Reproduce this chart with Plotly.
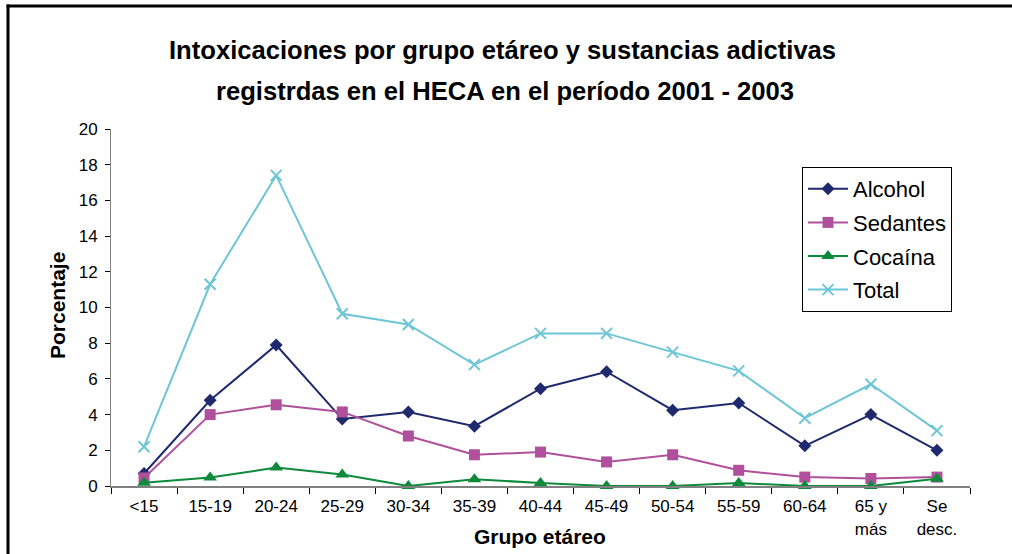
import plotly.graph_objects as go

categories = ["<15", "15-19", "20-24", "25-29", "30-34", "35-39", "40-44",
              "45-49", "50-54", "55-59", "60-64", "65 y<br>más", "Se<br>desc."]
alcohol = [0.7, 4.8, 7.9, 3.75, 4.15, 3.35, 5.45, 6.4, 4.25, 4.65, 2.25, 4.0, 2.0]
sedantes = [0.45, 4.0, 4.55, 4.15, 2.8, 1.75, 1.9, 1.35, 1.75, 0.88, 0.5, 0.42, 0.5]
cocaina = [0.18, 0.47, 1.03, 0.64, 0.0, 0.38, 0.17, 0.0, 0.0, 0.17, 0.0, 0.0, 0.4]
total = [2.2, 11.3, 17.4, 9.65, 9.05, 6.8, 8.55, 8.55, 7.5, 6.45, 3.8, 5.7, 3.1]

series = [
    ("Alcohol", alcohol, "#1F2A6E", "diamond", 10),
    ("Sedantes", sedantes, "#B0509C", "square", 11),
    ("Cocaína", cocaina, "#0E8A3A", "triangle-up", 12),
    ("Total", total, "#6CC6D6", "x-thin", 11),
]

fig = go.Figure()
for name, vals, color, sym, size in series:
    marker = dict(symbol=sym, size=size, color=color)
    if sym == "x-thin":
        marker["line"] = dict(color=color, width=2)
    fig.add_trace(go.Scatter(
        x=categories, y=vals, name=name, legendgroup=name, mode="lines+markers",
        line=dict(color=color, width=2), marker=marker, cliponaxis=False))

W, H = 1012, 554
L, R, T, B = 111, 970, 129, 486
pw, ph = R - L, B - T

def px(x):
    return (x - L) / pw

def py(y):
    return (B - y) / ph

FONT = "Liberation Sans, Arial, sans-serif"

fig.update_layout(
    width=W, height=H,
    margin=dict(l=L, r=W - R, t=T, b=H - B, pad=0, autoexpand=False),
    paper_bgcolor="white", plot_bgcolor="white",
    font=dict(family=FONT, color="black", size=17),
    showlegend=True,
    legend=dict(x=px(802), y=py(167), xanchor="left", yanchor="top",
                bgcolor="white", bordercolor="black", borderwidth=1,
                font=dict(size=22, family=FONT), itemwidth=40, tracegroupgap=2),
    xaxis=dict(type="category", showgrid=False, showline=True, linecolor="#808080",
               linewidth=2, ticks="outside", tickson="boundaries", ticklen=6,
               tickcolor="black", tickwidth=1, tickfont=dict(size=17),
               ticklabelstandoff=4, automargin=False, range=[-0.5, 12.5]),
    yaxis=dict(range=[0, 20], dtick=2, showgrid=False, showline=True,
               linecolor="#808080", linewidth=1, ticks="outside", ticklen=5,
               tickcolor="black", tickfont=dict(size=17), zeroline=False,
               ticklabelstandoff=4, automargin=False),
    annotations=[
        dict(text="<b>Intoxicaciones por grupo etáreo y sustancias adictivas</b>",
             x=px(502), y=py(50), xref="paper", yref="paper", showarrow=False,
             xanchor="center", yanchor="middle", font=dict(size=25.6, family=FONT)),
        dict(text="<b>registrdas en el HECA en el período 2001 - 2003</b>",
             x=px(505), y=py(91), xref="paper", yref="paper", showarrow=False,
             xanchor="center", yanchor="middle", font=dict(size=25.6, family=FONT)),
        dict(text="<b>Grupo etáreo</b>",
             x=px(540), y=py(536), xref="paper", yref="paper", showarrow=False,
             xanchor="center", yanchor="middle", font=dict(size=21, family=FONT)),
        dict(text="<b>Porcentaje</b>", textangle=-90,
             x=px(57), y=py(306), xref="paper", yref="paper", showarrow=False,
             xanchor="center", yanchor="middle", font=dict(size=21, family=FONT)),
    ],
    shapes=[
        dict(type="line", xref="paper", yref="paper",
             x0=px(6.5), x1=px(1030), y0=py(6), y1=py(6),
             line=dict(color="black", width=3), layer="below"),
        dict(type="line", xref="paper", yref="paper",
             x0=px(8), x1=px(8), y0=py(4.5), y1=py(580),
             line=dict(color="black", width=3), layer="below"),
    ],
)

fig.write_html("out.html", config={"displayModeBar": False},
               post_script=("document.body.style.margin='0';"
                            "document.body.style.overflow='hidden';"
                            "document.documentElement.style.overflow='hidden';"))
